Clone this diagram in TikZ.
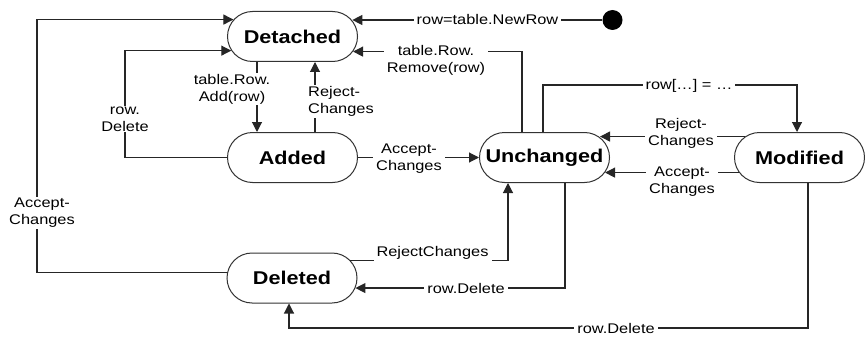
\documentclass[tikz,border=0pt]{standalone}
\usepackage{fontspec}
\setmainfont{Liberation Sans}[FakeStretch=1.17]
\usetikzlibrary{shapes.misc,arrows.meta}
\begin{document}
\begin{tikzpicture}[x=1pt,y=-1pt,
  state/.style={rounded rectangle, draw=black!80, line width=1pt, minimum width=130pt, minimum height=50pt, inner sep=0pt, fill=white, font=\fontsize{18.5}{20}\selectfont\bfseries},
  lbl/.style={fill=white, inner xsep=3pt, inner ysep=1pt, align=center, font=\fontsize{14}{17}\selectfont},
  ln/.style={draw=black!85, line width=1.1pt},
  arr/.style={ln, -{Triangle[length=10pt,width=10pt]}}]
\useasboundingbox (0,0) rectangle (865,337);

% states
\node[state] (Detached)  at (292.5,36.5) {Detached};
\node[state] (Added)     at (292.5,157.5) {Added};
\node[state] (Unchanged) at (544.5,157.5) {Unchanged};
\node[state] (Modified)  at (799.5,157.5) {Modified};
\node[state] (Deleted)   at (292,278) {Deleted};
\node[circle, fill=black, inner sep=0pt, minimum size=20pt] (init) at (612.5,20) {};

% helper coordinates
\coordinate (cL) at (37,0);
\coordinate (cD) at (125,0);
\coordinate (cT) at (700,85);
\coordinate (cB) at (600,328);

% connectors
\draw[arr] (init.west) -- (Detached.15.68 |- init.west);
\draw[arr] (Deleted.175.6) -| (cL |- Detached.164.3) -- (Detached.164.3);
\draw[arr] (Added.west) -| (cD |- Detached.193.5) -- (Detached.193.5);
\draw[arr] ([xshift=-35.5pt]Detached.south) -- ([xshift=-35.5pt]Added.north);
\draw[arr] ([xshift=22.5pt]Added.north) -- ([xshift=22.5pt]Detached.south);
\draw[arr] (Added.east) -- (Unchanged.west);
\draw[arr] ([xshift=-22.5pt]Unchanged.north) |- (Detached.346.5);
\draw[arr] ([xshift=-1.5pt]Unchanged.north) |- (cT) -| ([xshift=-2.5pt]Modified.north);
\draw[arr] (Modified.159.3) -- (Unchanged.20.68 |- Modified.159.3);
\draw[arr] (Modified.194.57) -- (Unchanged.-14.57 |- Modified.194.57);
\draw[arr] (Deleted.17.43) -| ([xshift=-36.5pt]Unchanged.south);
\draw[arr] ([xshift=20.5pt]Unchanged.south) |- (Deleted.-9.03);
\draw[arr] ([xshift=8.5pt]Modified.south) |- (cB) -| ([xshift=-3pt]Deleted.south);

% labels
\node[lbl] (l1) at (487.5,19.5) {row=table.NewRow};
\node[lbl] (l2) at (436,60) {table.Row.\\Remove(row)};
\node[lbl] (l3) at (42,213) {Accept-\\Changes};
\node[lbl] (l4) at (125,119) {row.\\Delete};
\node[lbl] (l5) at (232,89) {table.Row.\\Add(row)};
\node[lbl, anchor=west, align=left] (l6) at (305,101.5) {Reject-\\Changes};
\node[lbl] (l7) at (409,158.5) {Accept-\\Changes};
\node[lbl] (l8) at (689,86) {row[…] = …};
\node[lbl] (l9) at (681,133.5) {Reject-\\Changes};
\node[lbl] (l10) at (682,181.5) {Accept-\\Changes};
\node[lbl] (l11) at (432.5,253) {RejectChanges};
\node[lbl] (l12) at (466,288) {row.Delete};
\node[lbl] (l13) at (616,328) {row.Delete};
\end{tikzpicture}
\end{document}
